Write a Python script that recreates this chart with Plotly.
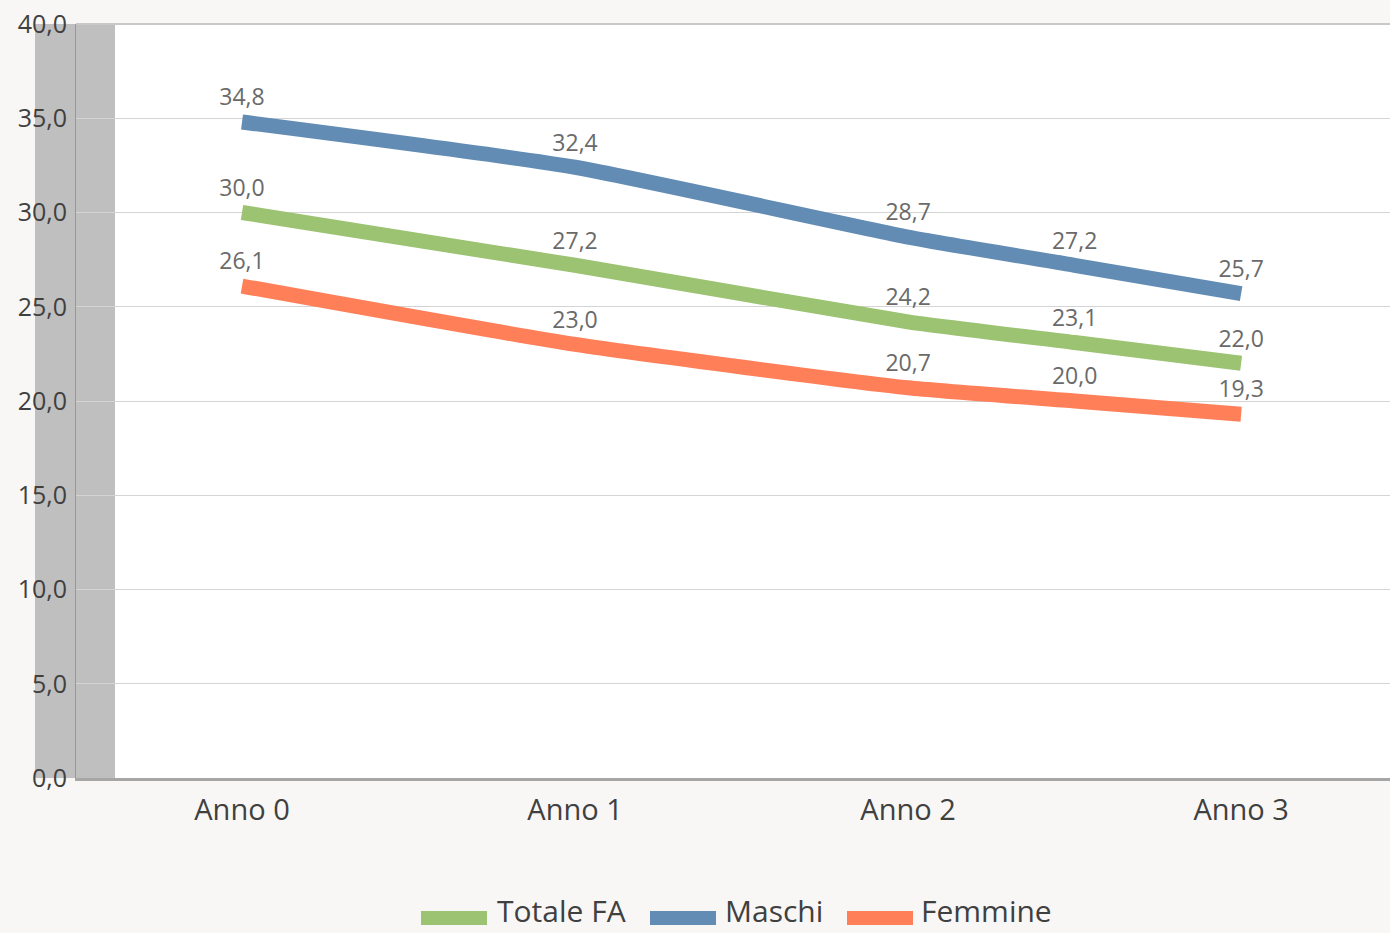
import plotly.graph_objects as go

# x positions of the points (the 2.5 point sits between Anno 2 and Anno 3)
x_pos = [0, 1, 2, 2.5, 3]
tick_vals = [0, 1, 2, 3]
tick_text = ["Anno 0", "Anno 1", "Anno 2", "Anno 3"]

totale_fa = [30.0, 27.2, 24.2, 23.1, 22.0]
maschi = [34.8, 32.4, 28.7, 27.2, 25.7]
femmine = [26.1, 23.0, 20.7, 20.0, 19.3]

series = [
    ("Totale FA", totale_fa, "#9bc372"),
    ("Maschi", maschi, "#628cb4"),
    ("Femmine", femmine, "#ff7f59"),
]

FONT = "Open Sans"
W, H = 1390, 933
L, T, B = 76, 24, 155
PW = W - L
PH = H - T - B


def px_x(p):
    return (p - L) / PW


def px_y(p):
    return (H - B - p) / PH


fig = go.Figure()

for name, vals, color in series:
    fig.add_trace(go.Scatter(
        x=x_pos,
        y=vals,
        name=name,
        mode="lines+markers+text",
        line=dict(color=color, width=15, shape="spline", smoothing=0.5),
        marker=dict(size=16, opacity=0),
        text=[f"{v:.1f}".replace(".", ",") for v in vals],
        textposition="top center",
        textfont=dict(family=FONT, size=23, color="#6a6a6a"),
        showlegend=False,
        hoverinfo="skip",
    ))

# grey side wall on the left
fig.add_shape(type="rect", xref="paper", yref="paper",
              x0=px_x(35), x1=px_x(115), y0=0, y1=1,
              fillcolor="#bfbfbf", line=dict(width=0), layer="below")
# top border
fig.add_shape(type="line", xref="paper", yref="paper",
              x0=0, x1=1, y0=1, y1=1,
              line=dict(color="#c8c8c8", width=2))

# legend drawn by hand so the swatches match the wide bars
legend_items = [
    ("Totale FA", "#9bc372", 421, 495),
    ("Maschi", "#628cb4", 650, 723),
    ("Femmine", "#ff7f59", 847, 919),
]
for label, color, sx, tx in legend_items:
    fig.add_shape(type="rect", xref="paper", yref="paper",
                  x0=px_x(sx), x1=px_x(sx + 66), y0=px_y(925), y1=px_y(911),
                  fillcolor=color, line=dict(width=0))
    fig.add_annotation(xref="paper", yref="paper", x=px_x(tx), y=px_y(933),
                       text=label, showarrow=False, xanchor="left",
                       yanchor="bottom",
                       font=dict(family=FONT, size=30, color="#404040"))

fig.update_layout(
    width=W,
    height=H,
    margin=dict(l=L, r=0, t=T, b=B),
    paper_bgcolor="#f8f7f5",
    plot_bgcolor="#ffffff",
    separators=",.",
    font=dict(family=FONT, color="#404040"),
    showlegend=False,
)
fig.update_xaxes(
    range=[-0.4985, 3.447],
    tickvals=tick_vals,
    ticktext=tick_text,
    showgrid=False,
    zeroline=False,
    showline=True,
    linecolor="#a6a6a6",
    linewidth=3,
    ticks="",
    ticklabelstandoff=4,
    tickfont=dict(family=FONT, size=29, color="#404040"),
)
fig.update_yaxes(
    range=[0, 40],
    dtick=5,
    tickformat=".1f",
    showgrid=True,
    gridcolor="#d4d4d4",
    gridwidth=1,
    zeroline=False,
    showline=True,
    linecolor="#999999",
    linewidth=1,
    ticks="",
    ticklabelstandoff=3,
    tickfont=dict(family=FONT, size=25, color="#404040"),
)

fig.write_html("out.html", config={"displayModeBar": False},
               post_script="document.body.style.margin='0';")
